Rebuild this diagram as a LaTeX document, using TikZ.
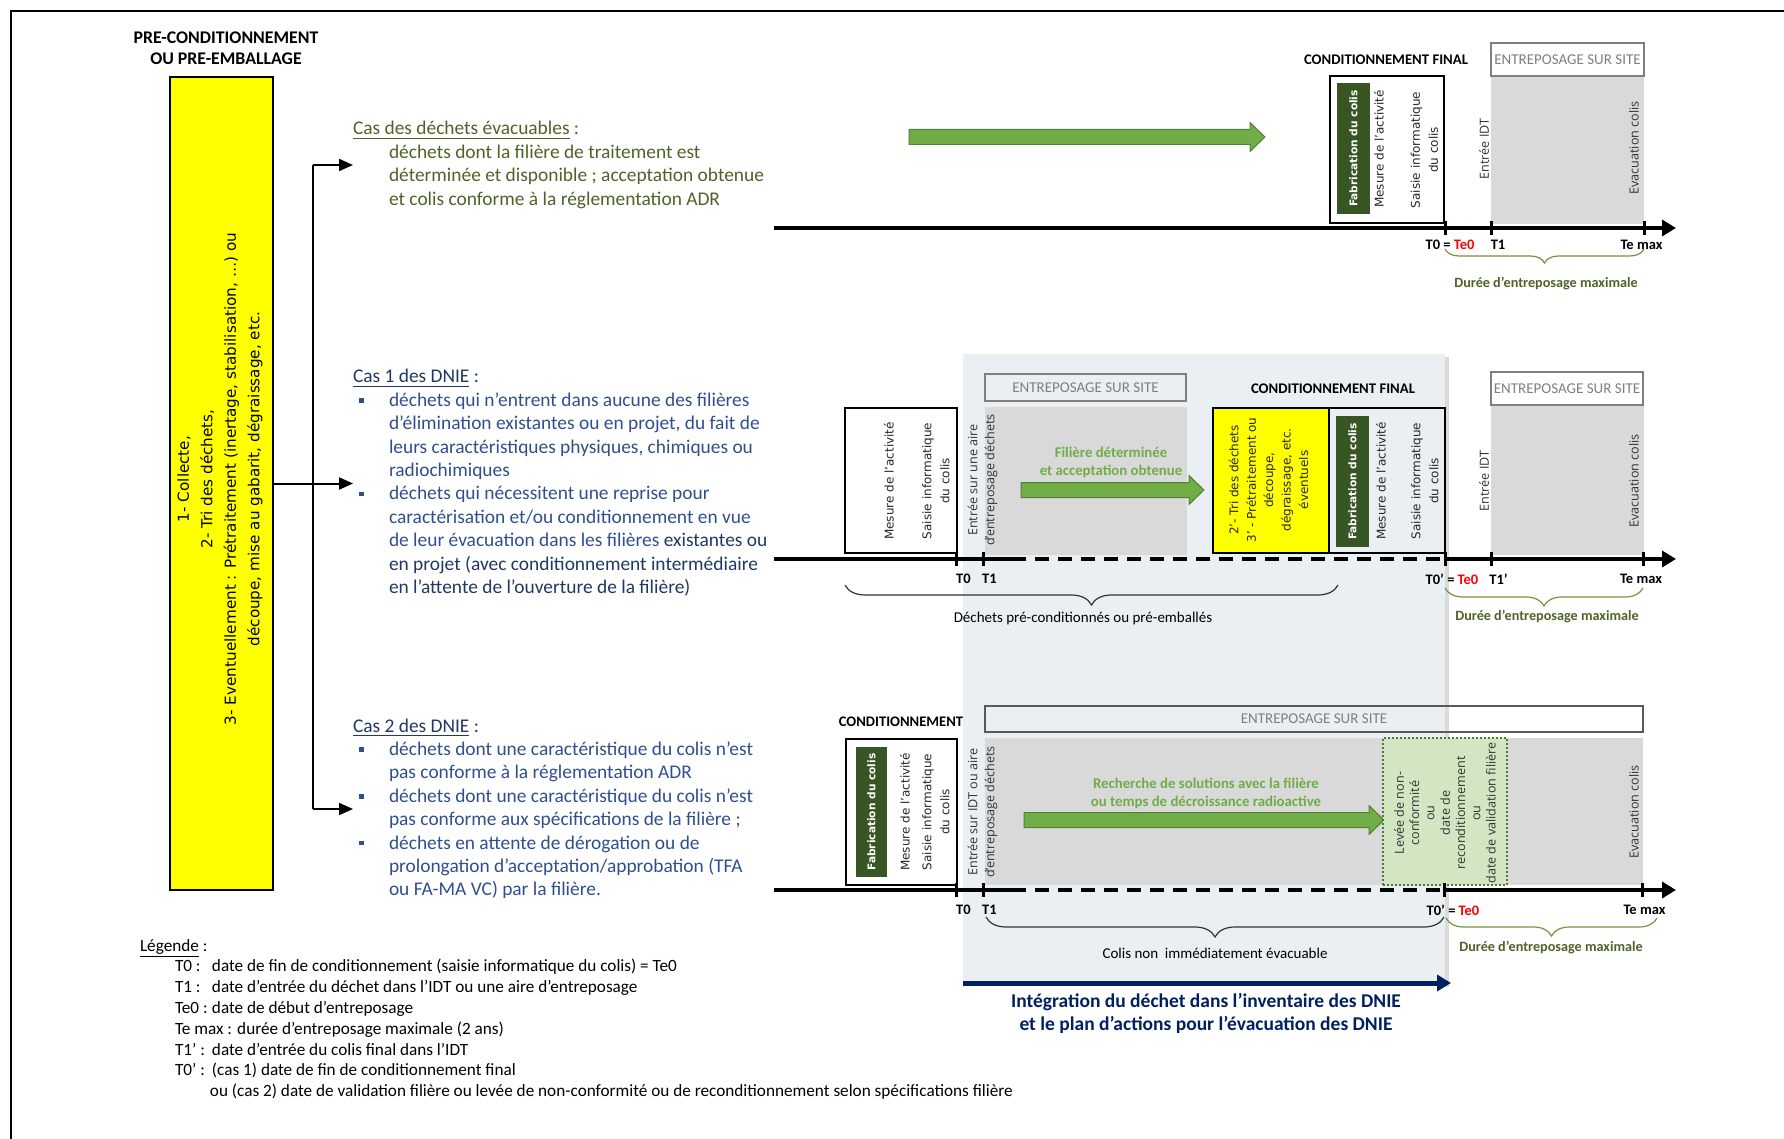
\documentclass[tikz,border=0pt]{standalone}
\usepackage{fontspec}
\setmainfont{Carlito}
\newfontfamily\verdf{DejaVu Sans}
\newfontfamily\opsf{Open Sans}
\usetikzlibrary{arrows.meta,decorations.pathreplacing}
\definecolor{cOlive}{HTML}{4F6228}
\definecolor{cNavy}{HTML}{1F3864}
\definecolor{cSteel}{HTML}{2F4F8F}
\definecolor{cDkGreen}{HTML}{375623}
\definecolor{cArrowG}{HTML}{70AD47}
\definecolor{cArrowGB}{HTML}{548235}
\definecolor{cCapG}{HTML}{70AD47}
\definecolor{cGreyFill}{HTML}{D9D9D9}
\definecolor{cGreyTxt}{HTML}{7F7F7F}
\definecolor{cPanel}{HTML}{EAEFF4}
\definecolor{cBoxG}{HTML}{D3E6C3}
\definecolor{cBoxGB}{HTML}{4E7A35}
\definecolor{cBlue}{HTML}{002060}
\definecolor{cYel}{HTML}{FFFF00}
\definecolor{cBraceG}{HTML}{76923C}
\definecolor{cDurG}{HTML}{4F6228}
\newcommand\mybul{\hspace*{3pt}\rule[1.8pt]{2.4pt}{2.4pt}\hspace*{12.6pt}}
\newcommand\myind{\hspace*{18pt}}
\newcommand\garrowdraw[3]{%
  \filldraw[fill=cArrowG,draw=cArrowGB,line width=0.5pt]
    (#1,#3-7.5) -- (#2-15,#3-7.5) -- (#2-15,#3-14.5) -- (#2,#3) --
    (#2-15,#3+14.5) -- (#2-15,#3+7.5) -- (#1,#3+7.5) -- cycle;}
\begin{document}
\begin{tikzpicture}[x=0.5pt,y=-0.5pt,
  every node/.style={inner sep=0pt, outer sep=0pt},
  axisline/.style={line width=2pt},
  axisarrow/.style={line width=2pt,-{Triangle[length=7pt,width=8pt]}},
  dashaxis/.style={line width=2pt,dash pattern=on 7pt off 4.5pt},
  tickmark/.style={line width=1.5pt},
  tlabel/.style={font=\fontsize{7.25}{8.7}\selectfont\bfseries},
  rotv/.style={font=\verdf\fontsize{6}{9}\selectfont, rotate=90, align=center, text=black!85},
  rotvb/.style={font=\verdf\bfseries\fontsize{5.3}{6.4}\selectfont, rotate=90, text=white},
  roto/.style={font=\opsf\fontsize{6.3}{8.5}\selectfont, rotate=90, align=center, text=black!80},
  heads/.style={font=\bfseries\fontsize{7.35}{8.8}\selectfont},
  entbox/.style={draw=cGreyTxt, line width=1pt},
  enttext/.style={font=\fontsize{7.5}{9}\selectfont, text=cGreyTxt},
  blackbox/.style={draw=black, line width=1pt},
  darkbox/.style={fill=cDkGreen},
  gbrace/.style={decorate, decoration={brace, mirror, amplitude=#1}, draw=cBraceG, line width=0.6pt},
  kbrace/.style={decorate, decoration={brace, mirror, amplitude=#1}, draw=black!80, line width=0.6pt},
  durtext/.style={font=\bfseries\fontsize{7.1}{8.5}\selectfont, text=cDurG},
  captext/.style={font=\bfseries\fontsize{7.4}{9}\selectfont, text=cCapG, align=center},
  bracetext/.style={font=\fontsize{7.5}{9}\selectfont},
  conn/.style={line width=1pt},
  connarrow/.style={line width=1pt,-{Triangle[length=7pt,width=6pt]}},
]
\useasboundingbox (0,0) rectangle (1784,1139);
% frame
\draw[line width=1.3pt] (11,1139) -- (11,11) -- (1784,11);

% ---------- left column ----------
\node[font=\bfseries\fontsize{8.9}{10.65}\selectfont, align=center] (pretitle) at (226,48) {PRE-CONDITIONNEMENT\\OU PRE-EMBALLAGE};
\node[draw=black, fill=cYel, line width=1pt, minimum width=51.5pt, minimum height=406.5pt] (yelbox) at (221.5,483.5) {};
\node[rotate=90, align=center, font=\verdf\fontsize{7.6}{11.75}\selectfont] (yeltext) at (220,479) {1- Collecte,\\2- Tri des déchets,\\3- Eventuellement : Prétraitement (inertage, stabilisation, …) ou\\découpe, mise au gabarit, dégraissage, etc.};

% ---------- case texts ----------
\node[anchor=base west, text=cOlive, font=\fontsize{9.7}{11.7}\selectfont] (c0) at (353,135) {\parbox[t]{260pt}{\underline{Cas des déchets évacuables} :\\
\myind déchets dont la filière de traitement est\\
\myind déterminée et disponible ; acceptation obtenue\\
\myind et colis conforme à la réglementation ADR}};

\node[anchor=base west, text=cSteel, font=\fontsize{9.7}{11.7}\selectfont] (c1) at (353,383) {\parbox[t]{260pt}{\textcolor{cNavy}{\underline{Cas 1 des DNIE} :}\\
\mybul déchets qui n’entrent dans aucune des filières\\
\myind d’élimination existantes ou en projet, du fait de\\
\myind leurs caractéristiques physiques, chimiques ou\\
\myind radiochimiques\\
\mybul déchets qui nécessitent une reprise pour\\
\myind caractérisation et/ou conditionnement en vue\\
\myind de leur évacuation dans les filières \textcolor{cNavy}{existantes ou}\\
\myind \textcolor{cNavy}{en projet (avec conditionnement intermédiaire}\\
\myind \textcolor{cNavy}{en l’attente de l’ouverture de la filière)}}};

\node[anchor=base west, text=cSteel, font=\fontsize{9.7}{11.7}\selectfont] (c2) at (353,732) {\parbox[t]{260pt}{\textcolor{cNavy}{\underline{Cas 2 des DNIE} :}\\
\mybul déchets dont une caractéristique du colis n’est\\
\myind pas conforme à la réglementation ADR\\
\mybul déchets dont une caractéristique du colis n’est\\
\myind pas conforme aux spécifications de la filière ;\\
\mybul déchets en attente de dérogation ou de\\
\myind prolongation d'acceptation/approbation (TFA\\
\myind ou FA-MA VC) par la filière.}};

% connectors from the yellow box
\coordinate (jtop) at (313,165);
\coordinate (jbot) at (313,809);
\draw[conn] (jtop) -- (jbot);
\draw[connarrow] (jtop) -- (jtop -| c0.west);
\draw[connarrow] (yelbox.east) -- (yelbox.east -| c1.west);
\draw[connarrow] (jbot) -- (jbot -| c2.west);

% ---------- legend ----------
\node[anchor=base west, font=\fontsize{8.6}{10.4}\selectfont] (legend) at (140,951) {\parbox[t]{600pt}{\underline{Légende} :\\
\hspace*{17.5pt}\makebox[18.5pt][l]{T0 :}date de fin de conditionnement (saisie informatique du colis) = Te0\\
\hspace*{17.5pt}\makebox[18.5pt][l]{T1 :}date d’entrée du déchet dans l’IDT ou une aire d’entreposage\\
\hspace*{17.5pt}\makebox[18.5pt][l]{Te0 :}date de début d’entreposage\\
\hspace*{17.5pt}Te max : durée d’entreposage maximale (2 ans)\\
\hspace*{17.5pt}\makebox[18.5pt][l]{T1’ :}date d’entrée du colis final dans l’IDT\\
\hspace*{17.5pt}\makebox[18.5pt][l]{T0’ :}(cas 1) date de fin de conditionnement final\\
\hspace*{35pt}ou (cas 2) date de validation filière ou levée de non-conformité ou de reconditionnement selon spécifications filière}};

% ---------- DNIE panel ----------
\fill[black!14] (1445,357) rectangle (1449,987);
\fill[cPanel] (963,354) rectangle (1445,984);

% ---------- row 1 ----------
\garrowdraw{909}{1265}{137}
\node[heads] (cf1) at (1386,60) {CONDITIONNEMENT FINAL};
\fill[cGreyFill] (1491,76) rectangle (1644,224);
\node[entbox, enttext, fill=white, minimum width=76.5pt, minimum height=16.5pt] (ent1) at (1567.5,59.5) {ENTREPOSAGE SUR SITE};
\node[blackbox, minimum width=57pt, minimum height=73.5pt] (cb1) at (1387,149.5) {};
\node[darkbox, minimum width=16.5pt, minimum height=65.5pt] (fab1) at (1353.5,148.5) {};
\node[rotvb] (fab1t) at (fab1) {Fabrication du colis};
\node[rotv] (mes1) at (1379,149) {Mesure de l’activité};
\node[rotv] (sai1) at (1424.5,150) {Saisie informatique\\du colis};
\node[roto] (idt1) at (1484,149) {Entrée IDT};
\node[roto] (eva1) at (1634,148) {Evacuation colis};
\coordinate (a1s) at (774,228);
\coordinate (a1e) at (1676,228);
\draw[axisarrow] (a1s) -- (a1e);
\foreach \x in {1445,1491,1644} \draw[tickmark] (\x,221) -- (\x,235);
\node[tlabel] (t01) at (1450,245) {T0 = \textcolor{red}{Te0}};
\node[tlabel] (t11) at (1498,245) {T1};
\node[tlabel] (tm1) at (1641.5,245) {Te max};
\draw[gbrace=7pt] (1445,249) -- (1644,249);
\node[durtext] (dur1) at (1546,284) {Durée d’entreposage maximale};

% ---------- row 2 ----------
\node[blackbox, minimum width=56pt, minimum height=72.5pt] (pre2) at (901,480.5) {};
\node[rotv] (mes2) at (889,481) {Mesure de l’activité};
\node[rotv] (sai2) at (936,481) {Saisie informatique\\du colis};
\fill[cGreyFill] (985,407) rectangle (1187,555);
\node[entbox, enttext, minimum width=100.5pt, minimum height=13.5pt] (ent2a) at (1085.5,387.5) {ENTREPOSAGE SUR SITE};
\node[roto] (ena2) at (982.5,480) {Entrée sur une aire\\d’entreposage déchets};
\garrowdraw{1021}{1204}{490}
\node[captext] (cap2) at (1111,462) {Filière déterminée\\et acceptation obtenue};
\node[heads] (cf2) at (1333,389) {CONDITIONNEMENT FINAL};
\node[blackbox, fill=cYel, minimum width=58pt, minimum height=72.5pt] (yel2) at (1271,480.5) {};
\node[rotv, font=\verdf\fontsize{6}{8.7}\selectfont] (yel2t) at (1268.5,480) {2’- Tri des déchets\\3’ - Prétraitement ou\\découpe,\\dégraissage, etc.\\éventuels};
\node[blackbox, minimum width=58pt, minimum height=72.5pt] (cb2) at (1387,480.5) {};
\node[darkbox, minimum width=16.5pt, minimum height=65.5pt] (fab2) at (1352.5,481.5) {};
\node[rotvb] (fab2t) at (fab2) {Fabrication du colis};
\node[rotv] (mes2b) at (1381,481) {Mesure de l’activité};
\node[rotv] (sai2b) at (1425,481) {Saisie informatique\\du colis};
\fill[cGreyFill] (1491,405) rectangle (1644,555);
\node[entbox, enttext, fill=white, minimum width=76pt, minimum height=16.5pt] (ent2b) at (1567,388.5) {ENTREPOSAGE SUR SITE};
\node[roto] (idt2) at (1484,481) {Entrée IDT};
\node[roto] (eva2) at (1634,481) {Evacuation colis};
\coordinate (a2s) at (774,559);
\coordinate (a2d) at (1012,559);
\coordinate (a2f) at (1445,559);
\coordinate (a2e) at (1676,559);
\draw[axisline] (a2s) -- (a2d);
\draw[dashaxis] (a2d) -- (a2f);
\draw[axisarrow] (a2f) -- (a2e);
\foreach \x in {956,983,1445,1491,1643} \draw[tickmark] (\x,552) -- (\x,566);
\node[tlabel] (t02) at (963.5,579) {T0};
\node[tlabel] (t12) at (989.5,579) {T1};
\node[tlabel] (t0p2) at (1452,579) {T0’ = \textcolor{red}{Te0}};
\node[tlabel] (t1p2) at (1498.5,579) {T1’};
\node[tlabel] (tm2) at (1641,579) {Te max};
\draw[kbrace=10pt] (845,585) -- (1338,585);
\node[bracetext] (br2) at (1083,618) {Déchets pré-conditionnés ou pré-emballés};
\draw[gbrace=9pt] (1445,588) -- (1643,588);
\node[durtext] (dur2) at (1547,617) {Durée d’entreposage maximale};

% ---------- row 3 ----------
\node[font=\bfseries\fontsize{7.3}{8.8}\selectfont] (cond3) at (901,722) {CONDITIONNEMENT};
\node[blackbox, minimum width=55.5pt, minimum height=73pt] (pre3) at (901.5,812) {};
\node[darkbox, minimum width=15.5pt, minimum height=65pt] (fab3) at (871.5,812) {};
\node[rotvb] (fab3t) at (fab3) {Fabrication du colis};
\node[rotv] (mes3) at (905,812) {Mesure de l’activité};
\node[rotv] (sai3) at (936,812) {Saisie informatique\\du colis};
\fill[cGreyFill] (985,738) rectangle (1643,885);
\node[draw=black!65, line width=1pt, enttext, minimum width=329pt, minimum height=13pt] (ent3) at (1314,719) {ENTREPOSAGE SUR SITE};
\node[roto] (ena3) at (982.5,812) {Entrée sur IDT ou aire\\d’entreposage déchets};
\garrowdraw{1024}{1384}{820}
\node[captext] (cap3) at (1206,793) {Recherche de solutions avec la filière\\ou temps de décroissance radioactive};
\node[fill=cBoxG, draw=cBoxGB, densely dotted, line width=1pt, minimum width=62pt, minimum height=73.5pt] (lev3) at (1445,811.5) {};
\node[roto, font=\opsf\fontsize{6.3}{7.65}\selectfont] (lev3t) at (1445,813) {Levée de non-\\conformité\\ou\\date de\\reconditionnement\\ou\\date de validation filière};
\node[roto] (eva3) at (1634,812) {Evacuation colis};
\coordinate (a3s) at (774,890);
\coordinate (a3d) at (1012,890);
\coordinate (a3f) at (1444,890);
\coordinate (a3e) at (1676,890);
\draw[axisline] (a3s) -- (a3d);
\draw[dashaxis] (a3d) -- (a3f);
\draw[axisarrow] (a3f) -- (a3e);
\foreach \x in {956,983,1444,1642} \draw[tickmark] (\x,883) -- (\x,897);
\node[tlabel] (t03) at (963.5,910) {T0};
\node[tlabel] (t13) at (989.5,910) {T1};
\node[tlabel] (t0p3) at (1453,910) {T0’ = \textcolor{red}{Te0}};
\node[tlabel] (tm3) at (1644.5,910) {Te max};
\draw[kbrace=10pt] (986,917) -- (1444,917);
\node[bracetext] (br3) at (1215,953) {Colis non\ \ immédiatement évacuable};
\draw[gbrace=9pt] (1446,918) -- (1657,918);
\node[durtext] (dur3) at (1551,948) {Durée d’entreposage maximale};

% ---------- DNIE integration arrow ----------
\coordinate (b1) at (963,983);
\coordinate (b2) at (1451,983);
\draw[line width=2.5pt, cBlue, -{Triangle[length=7pt,width=8pt]}] (b1) -- (b2);
\node[font=\bfseries\fontsize{9.75}{11.5}\selectfont, text=cBlue, align=center] (integ) at (1206,1013) {Intégration du déchet dans l’inventaire des DNIE\\et le plan d’actions pour l’évacuation des DNIE};
\end{tikzpicture}
\end{document}
